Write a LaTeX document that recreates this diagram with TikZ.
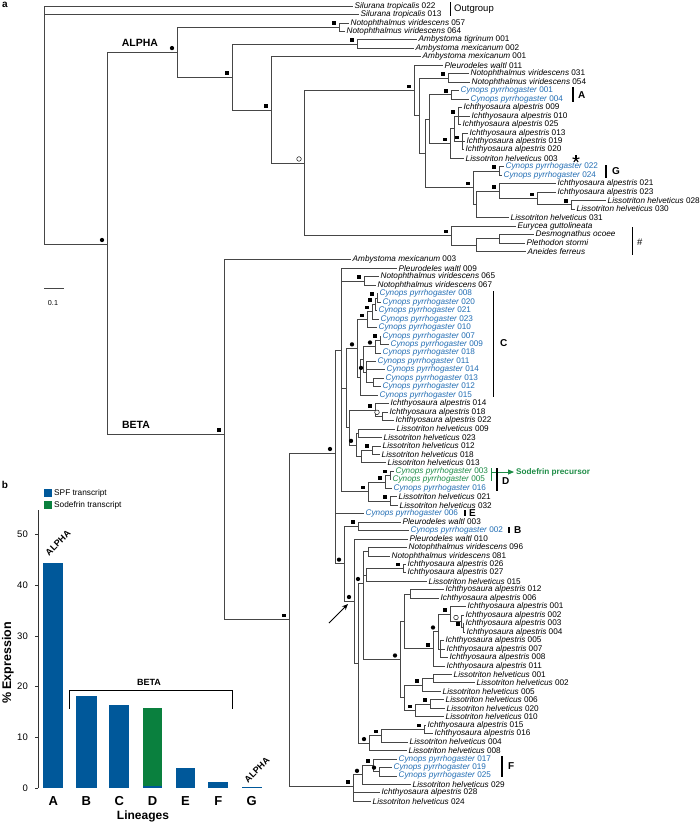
\documentclass[tikz,border=0pt]{standalone}
\usepackage{fontspec}
\setmainfont{Liberation Sans}
\usetikzlibrary{calc,arrows.meta}
\definecolor{tblue}{RGB}{35,110,180}
\definecolor{tgreen}{RGB}{30,140,70}
\definecolor{bblue}{RGB}{0,88,154}
\definecolor{bgreen}{RGB}{10,128,62}
\definecolor{brc}{RGB}{70,70,70}
\newcommand\sn[2]{\textit{#1}~#2}
\newcommand\lf[5]{\coordinate (#1) at (#3,{6+(#2-1)*8.46}); \node[lab,#4] (#1t) at (#1) {#5};}
\newcommand\nd[3]{\coordinate (#1) at (#2,#3);}
\newcommand\ndm[4]{\path let \p1=(#3), \p2=(#4) in coordinate (#1) at (#2pt,{(\y1+\y2)/2});}
\newcommand\ed[2]{\foreach \ch in {#2}{\draw[br] (#1) |- (\ch);}}
\newcommand\mk[2]{\node[#1] at ($(#2)+(-5,-4)$) {};}
\begin{document}
\begin{tikzpicture}[x=1pt,y=-1pt,
  br/.style={draw=brc, line width=0.7pt},
  lab/.style={anchor=west, inner sep=0pt, xshift=1.5pt, font=\fontsize{8.2}{9}\selectfont},
  sqm/.style={rectangle, fill=black, minimum size=3.6pt, inner sep=0pt},
  dtm/.style={circle, fill=black, minimum size=4.3pt, inner sep=0pt},
  ocm/.style={circle, draw=black, fill=white, minimum size=4.6pt, inner sep=0pt, line width=0.45pt},
  cl/.style={font=\fontsize{10}{11}\bfseries\selectfont, inner sep=0pt},
  axc/.style={draw=black!80, line width=0.8pt}]
\useasboundingbox (0,0) rectangle (700,823);
% ---------------- leaves
\lf{l1}{1}{353}{}{\sn{Silurana tropicalis}{022}}
\lf{l2}{2}{359}{}{\sn{Silurana tropicalis}{013}}
\lf{l3}{3}{349}{}{\sn{Notophthalmus viridescens}{057}}
\lf{l4}{4}{345}{}{\sn{Notophthalmus viridescens}{064}}
\lf{l5}{5}{417}{}{\sn{Ambystoma tigrinum}{001}}
\lf{l6}{6}{414}{}{\sn{Ambystoma mexicanum}{002}}
\lf{l7}{7}{421}{}{\sn{Ambystoma mexicanum}{001}}
\lf{l8}{8}{443}{}{\sn{Pleurodeles waltl}{011}}
\lf{l9}{9}{469}{}{\sn{Notophthalmus viridescens}{031}}
\lf{l10}{10}{470}{}{\sn{Notophthalmus viridescens}{054}}
\lf{l11}{11}{459}{text=tblue}{\sn{Cynops pyrrhogaster}{001}}
\lf{l12}{12}{469}{text=tblue}{\sn{Cynops pyrrhogaster}{004}}
\lf{l13}{13}{462}{}{\sn{Ichthyosaura alpestris}{009}}
\lf{l14}{14}{470}{}{\sn{Ichthyosaura alpestris}{010}}
\lf{l15}{15}{461}{}{\sn{Ichthyosaura alpestris}{025}}
\lf{l16}{16}{468}{}{\sn{Ichthyosaura alpestris}{013}}
\lf{l17}{17}{465}{}{\sn{Ichthyosaura alpestris}{019}}
\lf{l18}{18}{464}{}{\sn{Ichthyosaura alpestris}{020}}
\lf{l19}{19}{464}{}{\sn{Lissotriton helveticus}{003}}
\lf{l20}{20}{504}{text=tblue}{\sn{Cynops pyrrhogaster}{022}}
\lf{l21}{21}{502}{text=tblue}{\sn{Cynops pyrrhogaster}{024}}
\lf{l22}{22}{556}{}{\sn{Ichthyosaura alpestris}{021}}
\lf{l23}{23}{556}{}{\sn{Ichthyosaura alpestris}{023}}
\lf{l24}{24}{606}{}{\sn{Lissotriton helveticus}{028}}
\lf{l25}{25}{575}{}{\sn{Lissotriton helveticus}{030}}
\lf{l26}{26}{509}{}{\sn{Lissotriton helveticus}{031}}
\lf{l27}{27}{516}{}{\textit{Eurycea guttolineata}}
\lf{l28}{28}{534}{}{\textit{Desmognathus ocoee}}
\lf{l29}{29}{525}{}{\textit{Plethodon stormi}}
\lf{l30}{30}{526}{}{\textit{Aneides ferreus}}
\lf{l31}{31}{351}{}{\sn{Ambystoma mexicanum}{003}}
\lf{l32}{32}{397}{}{\sn{Pleurodeles waltl}{009}}
\lf{l33}{33}{379}{}{\sn{Notophthalmus viridescens}{065}}
\lf{l34}{34}{376}{}{\sn{Notophthalmus viridescens}{067}}
\lf{l35}{35}{378}{text=tblue}{\sn{Cynops pyrrhogaster}{008}}
\lf{l36}{36}{381}{text=tblue}{\sn{Cynops pyrrhogaster}{020}}
\lf{l37}{37}{377}{text=tblue}{\sn{Cynops pyrrhogaster}{021}}
\lf{l38}{38}{379}{text=tblue}{\sn{Cynops pyrrhogaster}{023}}
\lf{l39}{39}{377}{text=tblue}{\sn{Cynops pyrrhogaster}{010}}
\lf{l40}{40}{381}{text=tblue}{\sn{Cynops pyrrhogaster}{007}}
\lf{l41}{41}{389}{text=tblue}{\sn{Cynops pyrrhogaster}{009}}
\lf{l42}{42}{381}{text=tblue}{\sn{Cynops pyrrhogaster}{018}}
\lf{l43}{43}{376}{text=tblue}{\sn{Cynops pyrrhogaster}{011}}
\lf{l44}{44}{385}{text=tblue}{\sn{Cynops pyrrhogaster}{014}}
\lf{l45}{45}{384}{text=tblue}{\sn{Cynops pyrrhogaster}{013}}
\lf{l46}{46}{381}{text=tblue}{\sn{Cynops pyrrhogaster}{012}}
\lf{l47}{47}{378}{text=tblue}{\sn{Cynops pyrrhogaster}{015}}
\lf{l48}{48}{389}{}{\sn{Ichthyosaura alpestris}{014}}
\lf{l49}{49}{388}{}{\sn{Ichthyosaura alpestris}{018}}
\lf{l50}{50}{394}{}{\sn{Ichthyosaura alpestris}{022}}
\lf{l51}{51}{395}{}{\sn{Lissotriton helveticus}{009}}
\lf{l52}{52}{382}{}{\sn{Lissotriton helveticus}{023}}
\lf{l53}{53}{381}{}{\sn{Lissotriton helveticus}{012}}
\lf{l54}{54}{380}{}{\sn{Lissotriton helveticus}{018}}
\lf{l55}{55}{386}{}{\sn{Lissotriton helveticus}{013}}
\lf{l56}{56}{394}{text=tgreen}{\sn{Cynops pyrrhogaster}{003}}
\lf{l57}{57}{391}{text=tgreen}{\sn{Cynops pyrrhogaster}{005}}
\lf{l58}{58}{392}{text=tblue}{\sn{Cynops pyrrhogaster}{016}}
\lf{l59}{59}{397}{}{\sn{Lissotriton helveticus}{021}}
\lf{l60}{60}{398}{}{\sn{Lissotriton helveticus}{032}}
\lf{l61}{61}{364}{text=tblue}{\sn{Cynops pyrrhogaster}{006}}
\lf{l62}{62}{401}{}{\sn{Pleurodeles waltl}{003}}
\lf{l63}{63}{409}{text=tblue}{\sn{Cynops pyrrhogaster}{002}}
\lf{l64}{64}{408}{}{\sn{Pleurodeles waltl}{010}}
\lf{l65}{65}{407}{}{\sn{Notophthalmus viridescens}{096}}
\lf{l66}{66}{390}{}{\sn{Notophthalmus viridescens}{081}}
\lf{l67}{67}{406}{}{\sn{Ichthyosaura alpestris}{026}}
\lf{l68}{68}{406}{}{\sn{Ichthyosaura alpestris}{027}}
\lf{l69}{69}{427}{}{\sn{Lissotriton helveticus}{015}}
\lf{l70}{70}{444}{}{\sn{Ichthyosaura alpestris}{012}}
\lf{l71}{71}{439}{}{\sn{Ichthyosaura alpestris}{006}}
\lf{l72}{72}{466}{}{\sn{Ichthyosaura alpestris}{001}}
\lf{l73}{73}{464}{}{\sn{Ichthyosaura alpestris}{002}}
\lf{l74}{74}{464}{}{\sn{Ichthyosaura alpestris}{003}}
\lf{l75}{75}{465}{}{\sn{Ichthyosaura alpestris}{004}}
\lf{l76}{76}{444}{}{\sn{Ichthyosaura alpestris}{005}}
\lf{l77}{77}{445}{}{\sn{Ichthyosaura alpestris}{007}}
\lf{l78}{78}{448}{}{\sn{Ichthyosaura alpestris}{008}}
\lf{l79}{79}{445}{}{\sn{Ichthyosaura alpestris}{011}}
\lf{l80}{80}{452}{}{\sn{Lissotriton helveticus}{001}}
\lf{l81}{81}{475}{}{\sn{Lissotriton helveticus}{002}}
\lf{l82}{82}{441}{}{\sn{Lissotriton helveticus}{005}}
\lf{l83}{83}{444}{}{\sn{Lissotriton helveticus}{006}}
\lf{l84}{84}{445}{}{\sn{Lissotriton helveticus}{020}}
\lf{l85}{85}{444}{}{\sn{Lissotriton helveticus}{010}}
\lf{l86}{86}{426}{}{\sn{Ichthyosaura alpestris}{015}}
\lf{l87}{87}{433}{}{\sn{Ichthyosaura alpestris}{016}}
\lf{l88}{88}{408}{}{\sn{Lissotriton helveticus}{004}}
\lf{l89}{89}{407}{}{\sn{Lissotriton helveticus}{008}}
\lf{l90}{90}{397}{text=tblue}{\sn{Cynops pyrrhogaster}{017}}
\lf{l91}{91}{392}{text=tblue}{\sn{Cynops pyrrhogaster}{019}}
\lf{l92}{92}{397}{text=tblue}{\sn{Cynops pyrrhogaster}{025}}
\lf{l93}{93}{411}{}{\sn{Lissotriton helveticus}{029}}
\lf{l94}{94}{380}{}{\sn{Ichthyosaura alpestris}{028}}
\lf{l95}{95}{371}{}{\sn{Lissotriton helveticus}{024}}
% ---------------- internal nodes (ALPHA side)
\ndm{N1}{339}{l3}{l4}
\ndm{Amb}{357}{l5}{l6}
\ndm{N2}{448}{l9}{l10}
\ndm{Aa}{451}{l11}{l12}
\ndm{U}{458}{l13}{l15}
\ndm{W}{462}{l16}{l18}
\ndm{Wp}{454}{U}{W}
\ndm{T}{450}{Wp}{l19}
\ndm{S}{429}{Aa}{T}
\ndm{Gc}{499}{l20}{l21}
\ndm{G5}{571}{l24}{l25}
\ndm{G4}{537}{l23}{G5}
\ndm{G3}{499}{l22}{G4}
\ndm{G2}{476}{G3}{l26}
\ndm{GA}{473}{Gc}{G2}
\ndm{R}{425}{S}{GA}
\ndm{Q}{419}{N2}{R}
\ndm{P}{414}{l8}{Q}
\ndm{PL3}{499}{l28}{l29}
\ndm{PL2}{476}{PL3}{l30}
\ndm{PL}{451}{l27}{PL2}
\ndm{A4}{304}{P}{PL}
\ndm{A3}{271}{l7}{A4}
\ndm{A2}{232}{Amb}{A3}
\ndm{ALPHA}{177}{N1}{A2}
% ---------------- internal nodes (BETA side)
\ndm{NN}{364}{l33}{l34}
\ndm{C8}{377}{l35}{l36}
\ndm{C7}{375}{C8}{l37}
\ndm{C6}{372}{C7}{l38}
\ndm{C4}{367}{C6}{l39}
\ndm{C12}{380}{l40}{l41}
\ndm{C10}{375}{C12}{l42}
\ndm{C13}{373}{l45}{l46}
\ndm{C11}{366}{l43}{C13}
\ndm{C9}{363}{C10}{C11}
\ndm{C5}{360}{C9}{l47}
\ndm{C3}{357}{C4}{C5}
\ndm{I1d}{382}{l49}{l50}
\ndm{I1c}{375}{l48}{I1d}
\ndm{Ln9}{358}{l51}{l52}
\ndm{Ln1218}{372}{l53}{l54}
\ndm{Ln12}{361}{Ln1218}{l55}
\ndm{Lc}{356}{Ln9}{Ln12}
\ndm{IL}{349}{I1c}{Lc}
\ndm{C2}{346}{C3}{IL}
\ndm{Dcc}{390}{l56}{l57}
\ndm{Dc}{385}{Dcc}{l58}
\ndm{LL21}{390}{l59}{l60}
\ndm{Db}{368}{Dc}{LL21}
\nd{C1}{341}{350}
\ndm{B5}{358}{l62}{l63}
\ndm{NN2}{368}{l65}{l66}
\ndm{Ia2627}{403}{l67}{l68}
\ndm{IL15}{366}{Ia2627}{l69}
\ndm{I0126}{410}{l70}{l71}
\ndm{I5}{463}{l74}{l75}
\ndm{I4}{461}{l73}{I5}
\ndm{I2}{450}{l72}{I4}
\ndm{I3}{440}{l76}{l78}
\ndm{I1}{438}{I2}{I3}
\ndm{IB}{433}{I1}{l79}
\ndm{BI1}{404}{I0126}{IB}
\ndm{Ln12b}{433}{l80}{l81}
\ndm{LA}{422}{Ln12b}{l82}
\ndm{Ln620}{430}{l83}{l84}
\ndm{LB}{415}{Ln620}{l85}
\ndm{BL}{404}{LA}{LB}
\ndm{BI}{400}{BI1}{BL}
\nd{B8}{363}{583}
\ndm{Ia1516}{424}{l86}{l87}
\ndm{B10}{381}{Ia1516}{l88}
\ndm{B9}{369}{B10}{l89}
\ndm{B7}{358}{B8}{B9}
\ndm{B6}{354}{l64}{B7}
\ndm{B4}{344}{B5}{B6}
\nd{B3}{335}{453}
\ndm{F3}{379}{l91}{l92}
\ndm{F2}{373}{l90}{F3}
\ndm{F1}{362}{F2}{l93}
\nd{Ft}{353}{786}
\nd{B2}{289}{619.5}
\nd{BETA}{224}{434}
\nd{AB}{107}{244}
\nd{root}{44}{6}
% ---------------- branches
\ed{root}{l1,l2,AB}
\ed{AB}{ALPHA,BETA}
\ed{ALPHA}{N1,A2}
\ed{N1}{l3,l4}
\ed{A2}{Amb,A3}
\ed{Amb}{l5,l6}
\ed{A3}{l7,A4}
\ed{A4}{P,PL}
\ed{P}{l8,Q}
\ed{Q}{N2,R}
\ed{N2}{l9,l10}
\ed{R}{S,GA}
\ed{S}{Aa,T}
\ed{Aa}{l11,l12}
\ed{T}{Wp,l19}
\ed{Wp}{U,W}
\ed{U}{l13,l14,l15}
\ed{W}{l16,l17,l18}
\ed{GA}{Gc,G2}
\ed{Gc}{l20,l21}
\ed{G2}{G3,l26}
\ed{G3}{l22,G4}
\ed{G4}{l23,G5}
\ed{G5}{l24,l25}
\ed{PL}{l27,PL2}
\ed{PL2}{PL3,l30}
\ed{PL3}{l28,l29}
\ed{BETA}{l31,B2}
\ed{B2}{B3,Ft}
\ed{B3}{C1,l61,B4}
\ed{C1}{l32,NN,C2,Db}
\ed{NN}{l33,l34}
\ed{C2}{C3,IL}
\ed{C3}{C4,C5}
\ed{C4}{C6,l39}
\ed{C6}{C7,l38}
\ed{C7}{C8,l37}
\ed{C8}{l35,l36}
\ed{C5}{C9,l47}
\ed{C9}{C10,C11}
\ed{C10}{C12,l42}
\ed{C12}{l40,l41}
\ed{C11}{l43,l44,C13}
\ed{C13}{l45,l46}
\ed{IL}{I1c,Lc}
\ed{I1c}{l48,I1d}
\ed{I1d}{l49,l50}
\ed{Lc}{Ln9,Ln12}
\ed{Ln9}{l51,l52}
\ed{Ln12}{Ln1218,l55}
\ed{Ln1218}{l53,l54}
\ed{Db}{Dc,LL21}
\ed{Dc}{Dcc,l58}
\ed{Dcc}{l56,l57}
\ed{LL21}{l59,l60}
\ed{B4}{B5,B6}
\ed{B5}{l62,l63}
\ed{B6}{l64,B7}
\ed{B7}{B8,B9}
\ed{B8}{NN2,IL15,BI}
\ed{NN2}{l65,l66}
\ed{IL15}{Ia2627,l69}
\ed{Ia2627}{l67,l68}
\ed{BI}{BI1,BL}
\ed{BI1}{I0126,IB}
\ed{I0126}{l70,l71}
\ed{IB}{I1,l79}
\ed{I1}{I2,I3}
\ed{I2}{l72,I4}
\ed{I4}{l73,I5}
\ed{I5}{l74,l75}
\ed{I3}{l76,l77,l78}
\ed{BL}{LA,LB}
\ed{LA}{Ln12b,l82}
\ed{Ln12b}{l80,l81}
\ed{LB}{Ln620,l85}
\ed{Ln620}{l83,l84}
\ed{B9}{B10,l89}
\ed{B10}{Ia1516,l88}
\ed{Ia1516}{l86,l87}
\ed{Ft}{F1,l94,l95}
\ed{F1}{F2,l93}
\ed{F2}{l90,F3}
\ed{F3}{l91,l92}
% ---------------- support markers
\foreach \n in {AB,ALPHA,B3,C3,C11,C10,Lc,B4,B6,B8,BI,I1,B9,F1,F3}{\mk{dtm}{\n}}
\foreach \n in {N1,A2,Amb,A3,P,N2,Aa,T,U,W,GA,Gc,G3,G4,G5,PL,BETA,B2,NN,C4,C6,C7,C8,C12,I1c,Ln1218,Db,Dc,Dcc,LL21,B5,Ia2627,IB,I2,I5,LA,LB,Ln620,B10,Ia1516,Ft,F2}{\mk{sqm}{\n}}
\foreach \n in {A4,I1d,I4}{\mk{ocm}{\n}}
% ---------------- clade labels
\node[font=\fontsize{10.5}{11}\bfseries\selectfont, inner sep=0] (alab) at (140,43) {ALPHA};
\node[font=\fontsize{10.5}{11}\bfseries\selectfont, inner sep=0] (blab) at (136,425) {BETA};
\node[font=\fontsize{10}{11}\bfseries\selectfont, inner sep=0] (pa) at (5,5) {a};
\node[font=\fontsize{10}{11}\bfseries\selectfont, inner sep=0] (pb) at (5,485) {b};
\draw[line width=0.9pt] (450,2) -- (450,16);
\node[anchor=west, inner sep=0, font=\fontsize{9.5}{10}\selectfont] (og) at (454,9) {Outgroup};
\draw[line width=1.1pt] (573,87) -- (573,102);
\node[cl, anchor=west] (cA) at (578,95) {A};
\foreach \a in {-90,-18,54,126,198}{\draw[line width=1.1pt] (576,159) -- ++(\a:3.6);}
\draw[line width=1.1pt] (606,165) -- (606,178);
\node[cl, anchor=west] (cG) at (612,171) {G};
\draw[line width=0.6pt] (632,227) -- (632,255);
\node[anchor=west, inner sep=0, font=\fontsize{9.5}{10}\selectfont] (hs) at (637,242) {\#};
\draw[line width=0.9pt] (493,291) -- (493,397);
\node[cl, anchor=west] (cC) at (500,343) {C};
\draw[line width=0.9pt, tgreen] (491,468) -- (491,481);
\coordinate (sa) at (491,472); \coordinate (sb) at (514,472);
\draw[line width=0.9pt, tgreen, -{Triangle[length=6pt,width=5pt]}] (sa) -- (sb);
\node[anchor=west, inner sep=0, text=tgreen, font=\fontsize{8.2}{9}\bfseries\selectfont] (sod) at (516,472) {Sodefrin precursor};
\draw[line width=1.1pt] (497,468) -- (497,491);
\node[cl, anchor=west] (cD) at (502,481) {D};
\draw[line width=1.1pt] (465,510) -- (465,516);
\node[cl, anchor=west] (cE) at (469,513) {E};
\draw[line width=1.1pt] (509,527) -- (509,533);
\node[cl, anchor=west] (cB) at (514,530) {B};
\draw[line width=1.1pt] (502,756) -- (502,777);
\node[cl, anchor=west] (cF) at (508,766) {F};
\coordinate (ars) at (329,623); \coordinate (are) at (348,604);
\draw[line width=0.9pt, -{Stealth[length=6pt,width=5pt]}] (ars) -- (are);
% scale bar
\draw[line width=0.7pt, brc] (44,288) -- (64,288);
\node[inner sep=0, font=\fontsize{7.2}{8}\selectfont] (sc) at (53,303) {0.1};
% ---------------- panel b
\draw[axc] (38,510) -- (38,788);
\foreach \v in {0,10,20,30,40,50}{
  \draw[axc] (35,{788-5.07*\v}) -- (38,{788-5.07*\v});
  \node[anchor=east, inner sep=0, font=\fontsize{9.5}{10}\selectfont] at (28,{788-5.07*\v}) {\v};}
\fill[bblue] (43.3,788) rectangle (63.3,563.3);
\fill[bblue] (76,788) rectangle (96.7,696);
\fill[bblue] (109.3,788) rectangle (129,705);
\fill[bgreen] (142.7,785.5) rectangle (162.3,707.7);
\fill[bblue] (142.7,788) rectangle (162.3,785.5);
\fill[bblue] (176,788) rectangle (195,768.3);
\fill[bblue] (208.3,788) rectangle (228.3,782.3);
\fill[bblue] (241.7,788) rectangle (261.7,787.2);
\foreach \l/\x in {A/53.3,B/86.3,C/119.2,D/152.5,E/185.5,F/218.3,G/251.7}{
  \node[inner sep=0, font=\fontsize{13}{14}\bfseries\selectfont] at (\x,801) {\l};}
\node[inner sep=0, font=\fontsize{12}{13}\bfseries\selectfont] (lin) at (143,816) {Lineages};
\node[inner sep=0, rotate=90, font=\fontsize{12.5}{13}\bfseries\selectfont] (yl) at (8,663) {\% Expression};
\fill[bblue] (44,489) rectangle (52,497);
\node[anchor=west, inner sep=0, font=\fontsize{8.3}{9}\selectfont] (lg1) at (54,493) {SPF transcript};
\fill[bgreen] (44,501) rectangle (52,509);
\node[anchor=west, inner sep=0, font=\fontsize{8.3}{9}\selectfont] (lg2) at (54,505) {Sodefrin transcript};
\draw[line width=0.8pt] (69,709) -- (69,690) -- (232,690) -- (232,709);
\node[inner sep=0, font=\fontsize{9}{10}\bfseries\selectfont] (bb) at (149,682) {BETA};
\node[inner sep=0, rotate=45, font=\fontsize{9}{10}\bfseries\selectfont] (ba1) at (58,543) {ALPHA};
\node[inner sep=0, rotate=45, font=\fontsize{9}{10}\bfseries\selectfont] (ba2) at (257,770) {ALPHA};
\end{tikzpicture}
\end{document}
